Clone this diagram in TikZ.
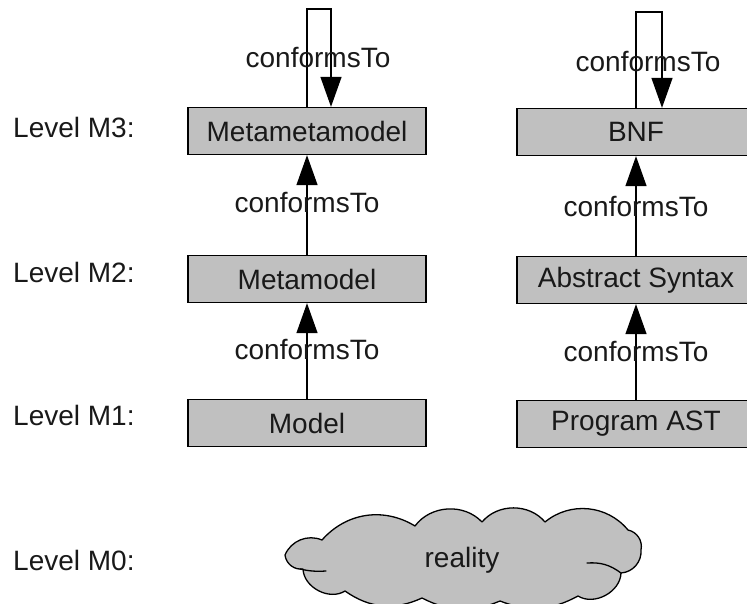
\documentclass[tikz,border=0pt]{standalone}
\usepackage{fontspec}
\setmainfont{Liberation Sans}
\usetikzlibrary{arrows.meta}
\definecolor{boxgray}{RGB}{192,192,192}
\definecolor{ink}{RGB}{25,25,25}
\tikzset{
  txt/.style={font=\fontsize{28}{30}\selectfont, text=ink, inner sep=0pt},
  box/.style={txt, draw=black, fill=boxgray, line width=1.3pt,
    minimum width=238pt, minimum height=47pt},
  conf/.style={line width=1.3pt, -{Triangle[length=30pt,width=21pt]}},
  level/.style={txt, anchor=west},
  cloudline/.style={draw=black, fill=boxgray, line width=1.3pt, line join=round},
  curl/.style={draw=black, line width=1.3pt, line cap=round},
}
\begin{document}
\begin{tikzpicture}[x=1pt,y=-1pt]
\useasboundingbox (0,0) rectangle (747,604);
\begin{scope}
\clip (0,0) rectangle (747,604);

% level captions
\node[level] (l3) at (13,127) {Level M3:};
\node[level] (l2) at (13,272) {Level M2:};
\node[level] (l1) at (13,415) {Level M1:};
\node[level] (l0) at (13,560) {Level M0:};

% modelware stack
\node[box] (mmm) at (307,131) {Metametamodel};
\node[box] (mm)  at (307,279) {Metamodel};
\node[box] (m)   at (307,423) {Model};

% grammarware stack
\node[box] (bnf) at (636,132) {BNF};
\node[box] (as)  at (636,280) {Abstract Syntax};
\node[box] (ast) at (636,424) {Program AST};

% conformance links
\draw[conf] (mm.north) -- (mmm.south);
\draw[conf] (m.north) -- (mm.south);
\draw[conf] (as.north) -- (bnf.south);
\draw[conf] (ast.north) -- (as.south);

% self-conformance loops
\coordinate (mmmtop) at (320,9);
\coordinate (bnftop) at (649,12);
\draw[conf] (mmm.north) |- (mmmtop) -| ([xshift=24pt]mmm.north);
\draw[conf] (bnf.north) |- (bnftop) -| ([xshift=26pt]bnf.north);

% link labels
\node[txt] (c1) at (318,58) {conformsTo};
\node[txt] (c2) at (648,62) {conformsTo};
\node[txt] (c3) at (307,203) {conformsTo};
\node[txt] (c4) at (636,207) {conformsTo};
\node[txt] (c5) at (307,350) {conformsTo};
\node[txt] (c6) at (636,352) {conformsTo};

% the real world: a flat cloud outline
\path[cloudline] (303,569)
  to[bend left=45] (285,555)
  to[bend left=45] (322,540)
  to[bend left=40] (415,526)
  to[bend left=50] (482,522)
  to[bend left=50] (545,522)
  to[bend left=45] (628,530)
  to[bend left=45] (641,550)
  to[bend left=45] (621,573)
  to[bend left=60] (578,596)
  to[bend left=25] (500,601)
  to[bend left=25] (422,598)
  to[bend left=30] (345,591)
  to[bend left=60] cycle;
\draw[curl] (300,569) to[bend right=8] (326,571);
\draw[curl] (587,563) to[bend left=20] (621,573);
\node[txt] (real) at (462,560) {reality};
\end{scope}
\end{tikzpicture}
\end{document}
